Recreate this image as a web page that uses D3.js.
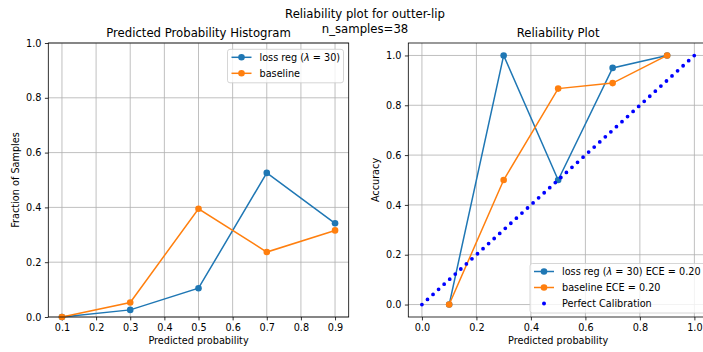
<!DOCTYPE html>
<html>
<head>
<meta charset="utf-8">
<script src="https://cdn.jsdelivr.net/npm/d3@7"></script>
<style>
  body { margin: 0; background: #fff; }
  svg { display: block; font-family: 'DejaVu Sans', sans-serif; }
</style>
</head>
<body>
<div id="chart"></div>
<script>
'use strict';

// data
const binCenters = [0.1, 0.3, 0.5, 0.7, 0.9];
const histLossReg = [0.0, 0.026, 0.105, 0.526, 0.342];
const histBaseline = [0.0, 0.053, 0.395, 0.237, 0.316];
const accLossReg = [0.0, 1.0, 0.5, 0.95, 1.0];
const accBaseline = [0.0, 0.5, 0.867, 0.889, 1.0];
const perfectCalib = [0, 1];
const histXTicks = [0.1, 0.2, 0.3, 0.4, 0.5, 0.6, 0.7, 0.8, 0.9];
const histYTicks = [0.0, 0.2, 0.4, 0.6, 0.8, 1.0];
const relTicks = [0.0, 0.2, 0.4, 0.6, 0.8, 1.0];
const lossRegName = 'loss reg';
const lossRegLambda = 30;
const eceLossReg = 0.20;
const eceBaseline = 0.20;
const nSamples = 38;

const W = 703, H = 352;
const BLUE = '#1f77b4', ORANGE = '#ff7f0e', CAL = '#0000ff';
const FS = 9.7;
const MR = 3.3; // marker radius

const svg = d3.select('#chart').append('svg')
  .attr('width', W).attr('height', H);

// suptitle
svg.append('text').attr('x', 365).attr('y', 18).attr('text-anchor', 'middle')
  .attr('font-size', 11.7).attr('fill', '#000').text('Reliability plot for outter-lip');
svg.append('text').attr('x', 365).attr('y', 33).attr('text-anchor', 'middle')
  .attr('font-size', 11.7).attr('fill', '#000').text(`n_samples=${nSamples}`);

function panel({ left, right, top, bottom, xDomain, yDomain, xTicks, yTicks, title, ylabel, ylabelX }) {
  const x = d3.scaleLinear().domain(xDomain).range([left, right]);
  const y = d3.scaleLinear().domain(yDomain).range([bottom, top]);
  const g = svg.append('g');

  // grid
  g.append('g').selectAll('line').data(xTicks).join('line')
    .attr('x1', d => x(d)).attr('x2', d => x(d))
    .attr('y1', top).attr('y2', bottom)
    .attr('stroke', '#b0b0b0').attr('stroke-width', 0.8);
  g.append('g').selectAll('line').data(yTicks).join('line')
    .attr('x1', left).attr('x2', right)
    .attr('y1', d => y(d)).attr('y2', d => y(d))
    .attr('stroke', '#b0b0b0').attr('stroke-width', 0.8);

  const xAxis = d3.axisBottom(x).tickValues(xTicks).tickFormat(d3.format('.1f'))
    .tickSize(3.4).tickPadding(3.4);
  const yAxis = d3.axisLeft(y).tickValues(yTicks).tickFormat(d3.format('.1f'))
    .tickSize(3.4).tickPadding(3.4);

  const ax = g.append('g').attr('transform', `translate(0,${bottom})`).call(xAxis);
  const ay = g.append('g').attr('transform', `translate(${left},0)`).call(yAxis);
  [ax, ay].forEach(a => {
    a.select('.domain').remove();
    a.selectAll('.tick line').attr('stroke', '#000').attr('stroke-width', 0.8);
    a.selectAll('.tick text').attr('font-size', FS).attr('fill', '#000')
      .attr('font-family', "'DejaVu Sans', sans-serif");
  });

  g.append('text').attr('x', (left + right) / 2).attr('y', 37).attr('text-anchor', 'middle')
    .attr('font-size', 11.7).text(title);
  g.append('text').attr('x', (left + right) / 2).attr('y', 344).attr('text-anchor', 'middle')
    .attr('font-size', FS).text('Predicted probability');
  g.append('text').attr('transform', `translate(${ylabelX},${(top + bottom) / 2}) rotate(-90)`)
    .attr('text-anchor', 'middle').attr('font-size', FS).text(ylabel);

  const plot = svg.append('g');
  svg.append('rect').attr('x', left).attr('y', top)
    .attr('width', right - left).attr('height', bottom - top)
    .attr('fill', 'none').attr('stroke', '#000').attr('stroke-width', 0.8);
  return { x, y, plot };
}

function series(p, xs, ys, color) {
  const pts = xs.map((d, i) => [d, ys[i]]);
  const line = d3.line().x(d => p.x(d[0])).y(d => p.y(d[1]));
  p.plot.append('path').datum(pts).attr('d', line)
    .attr('fill', 'none').attr('stroke', color).attr('stroke-width', 1.5);
  p.plot.append('g').selectAll('circle').data(pts).join('circle')
    .attr('cx', d => p.x(d[0])).attr('cy', d => p.y(d[1])).attr('r', MR)
    .attr('fill', color);
}

function lambdaLabel(t, suffix) {
  t.append('tspan').text(`${lossRegName} (`);
  t.append('tspan').attr('font-style', 'italic').text('λ');
  t.append('tspan').text(` = ${lossRegLambda})${suffix}`);
}

function legend(x0, y0, w, entries) {
  const rowH = 16;
  const h = entries.length * rowH + 1.5;
  const g = svg.append('g');
  g.append('rect').attr('x', x0).attr('y', y0).attr('width', w).attr('height', h)
    .attr('rx', 2.5).attr('fill', '#fff').attr('fill-opacity', 0.8)
    .attr('stroke', '#cccccc').attr('stroke-width', 0.8);
  entries.forEach((e, i) => {
    const cy = y0 + 8 + i * rowH;
    if (e.line) {
      g.append('line').attr('x1', x0 + 4).attr('x2', x0 + 24).attr('y1', cy).attr('y2', cy)
        .attr('stroke', e.color).attr('stroke-width', 1.5);
      g.append('circle').attr('cx', x0 + 14).attr('cy', cy).attr('r', MR).attr('fill', e.color);
    } else {
      g.append('circle').attr('cx', x0 + 14).attr('cy', cy).attr('r', 2).attr('fill', e.color);
    }
    const t = g.append('text').attr('x', x0 + 32).attr('y', cy + 3.5).attr('font-size', FS);
    e.label(t);
  });
}

// left: histogram
const p1 = panel({
  left: 48.3, right: 348.7, top: 43, bottom: 317,
  xDomain: [0.06, 0.94], yDomain: [0, 1],
  xTicks: histXTicks, yTicks: histYTicks,
  title: 'Predicted Probability Histogram', ylabel: 'Fraction of Samples', ylabelX: 19
});
series(p1, binCenters, histLossReg, BLUE);
series(p1, binCenters, histBaseline, ORANGE);
legend(227.5, 49.3, 116, [
  { line: true, color: BLUE, label: t => lambdaLabel(t, '') },
  { line: true, color: ORANGE, label: t => t.text('baseline') }
]);

// right: reliability
const p2 = panel({
  left: 408.3, right: 708, top: 43, bottom: 317,
  xDomain: [-0.05, 1.05], yDomain: [-0.05, 1.05],
  xTicks: relTicks, yTicks: relTicks,
  title: 'Reliability Plot', ylabel: 'Accuracy', ylabelX: 379
});
series(p2, binCenters, accLossReg, BLUE);
series(p2, binCenters, accBaseline, ORANGE);
{
  // y = x reference drawn as a dotted line through its two end points
  const pts = perfectCalib.map(d => [d, d]);
  const len = Math.hypot(p2.x(1) - p2.x(0), p2.y(1) - p2.y(0));
  const step = (len / 49) * 0.9995;
  p2.plot.append('path').datum(pts)
    .attr('d', d3.line().x(d => p2.x(d[0])).y(d => p2.y(d[1])))
    .attr('fill', 'none').attr('stroke', CAL).attr('stroke-width', 3.8)
    .attr('stroke-linecap', 'round').attr('stroke-dasharray', `0,${step}`);
}
legend(530, 263.5, 180, [
  { line: true, color: BLUE, label: t => lambdaLabel(t, ` ECE = ${eceLossReg.toFixed(2)}`) },
  { line: true, color: ORANGE, label: t => t.text(`baseline ECE = ${eceBaseline.toFixed(2)}`) },
  { line: false, color: CAL, label: t => t.text('Perfect Calibration') }
]);
</script>
</body>
</html>
